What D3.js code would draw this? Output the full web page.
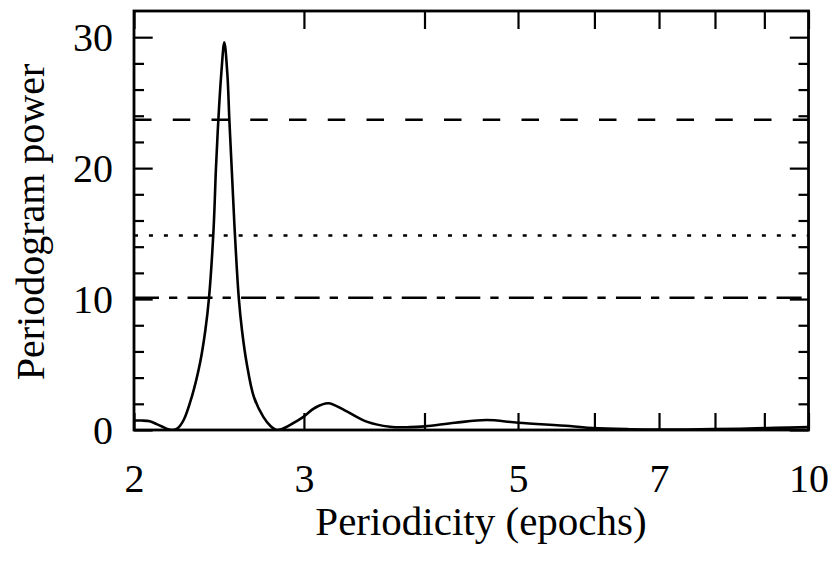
<!DOCTYPE html>
<html>
<head>
<meta charset="utf-8">
<script src="https://cdn.jsdelivr.net/npm/d3@7/dist/d3.min.js"></script>
<style>
    body { margin: 0; background: #fff; }
    svg text { font-family: "Liberation Serif", "Times New Roman", serif; fill: #000; }
</style>
</head>
<body>
<div id="chart"></div>
<script>
// periodogram
var periods = [2.000, 2.038, 2.077, 2.111, 2.141, 2.165, 2.193, 2.221, 2.253, 2.295, 2.341, 2.371, 2.392,
    2.418, 2.432, 2.446, 2.463, 2.481, 2.499, 2.511, 2.525, 2.543, 2.568, 2.588, 2.617, 2.663, 2.723,
    2.770, 2.811, 2.855, 2.901, 2.996, 3.081, 3.180, 3.307, 3.484, 3.684, 3.864, 4.004, 4.301, 4.639,
    5.003, 5.656, 5.978, 6.531, 7.015, 7.718, 8.490, 9.229, 10.0];
var power = [0.72, 0.72, 0.66, 0.45, 0.25, 0.08, 0.00, 0.15, 0.80, 2.5, 5.1, 7.6, 10.1,
    15.3, 20.0, 23.7, 27.2, 29.6, 27.2, 23.7, 20.0, 15.3, 10.1, 7.6, 5.1, 2.5, 1.0,
    0.30, 0.00, 0.12, 0.38, 1.0, 1.7, 2.04, 1.5, 0.64, 0.25, 0.22, 0.28, 0.55, 0.76,
    0.55, 0.30, 0.15, 0.06, 0.03, 0.05, 0.10, 0.16, 0.22];
var thresholds = [23.7, 14.85, 10.1];
var xTickValues = [2, 3, 4, 5, 6, 7, 8, 9, 10];
var xTickLabels = [2, 3, 5, 7, 10];
var yMajorTicks = [0, 10, 20, 30];
var yMinorTicks = [2, 4, 6, 8, 12, 14, 16, 18, 22, 24, 26, 28];

var W = 834, H = 564;
var m = { top: 11, right: 25.5, bottom: 134, left: 134 };
var dashes = ["17.5,21.25", "4,10.95", "25,10,8.3,10.25"];
var fontSize = 40;

var svg = d3.select("#chart").append("svg")
    .attr("width", W)
    .attr("height", H);

var x = d3.scaleLog()
    .domain([2, 10])
    .range([m.left, W - m.right]);
var y = d3.scaleLinear()
    .domain([0, 32])
    .range([H - m.bottom, m.top]);

function styleAxis(g) {
    g.select(".domain").remove();
    g.selectAll(".tick line").attr("stroke", "#000").attr("stroke-width", 2.2);
    g.selectAll(".tick text").attr("font-size", fontSize);
}

// bottom axis with labels
svg.append("g")
    .attr("transform", "translate(0," + y(0) + ")")
    .call(d3.axisBottom(x)
        .tickValues(xTickValues)
        .tickSizeInner(-17)
        .tickSizeOuter(0)
        .tickPadding(34)
        .tickFormat(function(d) {
            return xTickLabels.indexOf(d) >= 0 ? d : "";
        }))
    .call(styleAxis);

// top axis
svg.append("g")
    .attr("transform", "translate(0," + y(32) + ")")
    .call(d3.axisTop(x)
        .tickValues(xTickValues)
        .tickSizeInner(-18)
        .tickSizeOuter(0)
        .tickFormat(""))
    .call(styleAxis);

// left axis
svg.append("g")
    .attr("transform", "translate(" + x(2) + ",0)")
    .call(d3.axisLeft(y)
        .tickValues(yMajorTicks)
        .tickSizeInner(-18.7)
        .tickSizeOuter(0)
        .tickPadding(21))
    .call(styleAxis)
    .selectAll(".tick text")
    .attr("dy", "0.33em");

svg.append("g")
    .attr("transform", "translate(" + x(2) + ",0)")
    .call(d3.axisLeft(y)
        .tickValues(yMinorTicks)
        .tickSizeInner(-10)
        .tickSizeOuter(0)
        .tickFormat(""))
    .call(styleAxis);

// right axis
svg.append("g")
    .attr("transform", "translate(" + x(10) + ",0)")
    .call(d3.axisRight(y)
        .tickValues(yMajorTicks)
        .tickSizeInner(-18.7)
        .tickSizeOuter(0)
        .tickFormat(""))
    .call(styleAxis);

svg.append("g")
    .attr("transform", "translate(" + x(10) + ",0)")
    .call(d3.axisRight(y)
        .tickValues(yMinorTicks)
        .tickSizeInner(-10)
        .tickSizeOuter(0)
        .tickFormat(""))
    .call(styleAxis);

// significance levels
svg.selectAll(".level")
    .data(thresholds)
    .enter()
    .append("line")
    .attr("class", "level")
    .attr("x1", x(2))
    .attr("x2", x(10))
    .attr("y1", function(d) { return y(d); })
    .attr("y2", function(d) { return y(d); })
    .attr("stroke", "#000")
    .attr("stroke-width", 2.6)
    .attr("stroke-dasharray", function(d, i) { return dashes[i]; });

// periodogram curve
svg.append("clipPath")
    .attr("id", "plotClip")
    .append("rect")
    .attr("x", x(2))
    .attr("y", y(32))
    .attr("width", x(10) - x(2))
    .attr("height", y(0) - y(32));

var line = d3.line()
    .x(function(d) { return x(d[0]); })
    .y(function(d) { return y(d[1]); })
    .curve(d3.curveCatmullRom.alpha(0.5));

svg.append("path")
    .datum(d3.zip(periods, power))
    .attr("d", line)
    .attr("clip-path", "url(#plotClip)")
    .attr("fill", "none")
    .attr("stroke", "#000")
    .attr("stroke-width", 2.6)
    .attr("stroke-linejoin", "round");

// frame
svg.append("rect")
    .attr("x", x(2))
    .attr("y", y(32))
    .attr("width", x(10) - x(2))
    .attr("height", y(0) - y(32))
    .attr("fill", "none")
    .attr("stroke", "#000")
    .attr("stroke-width", 2.8);

// axis titles
svg.append("text")
    .attr("x", 481)
    .attr("y", 535)
    .attr("text-anchor", "middle")
    .attr("font-size", 41)
    .text("Periodicity (epochs)");

svg.append("text")
    .attr("transform", "translate(44," + 222 + ") rotate(-90)")
    .attr("text-anchor", "middle")
    .attr("font-size", fontSize)
    .text("Periodogram power");
</script>
</body>
</html>
